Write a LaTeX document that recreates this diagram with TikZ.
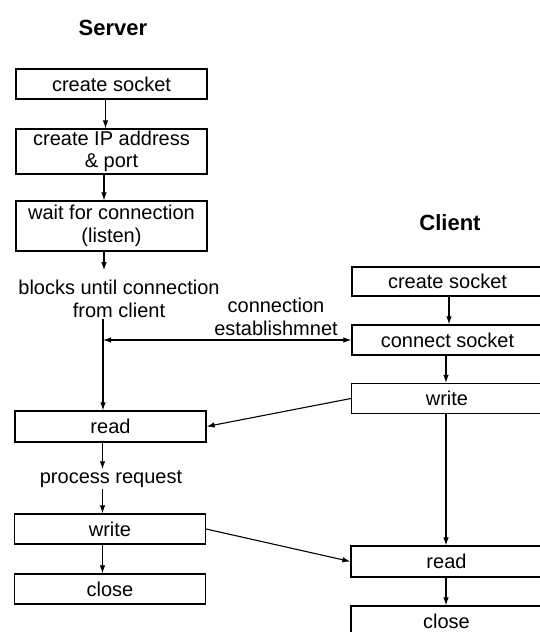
\documentclass[tikz,border=0pt]{standalone}
\usepackage{fontspec}
\setmainfont{Liberation Sans}
\usetikzlibrary{arrows.meta}
\begin{document}
\begin{tikzpicture}[x=1pt,y=-1pt,
 box/.style={draw, line width=1.2pt, minimum width=191pt, inner sep=0pt, font=\fontsize{20}{22.5}\selectfont, align=center},
 lbl/.style={font=\fontsize{20}{22.5}\selectfont, align=center, inner sep=1pt},
 ttl/.style={font=\fontsize{22}{26}\selectfont\bfseries},
 arr/.style={-{Latex[length=8pt,width=5.5pt]}, line width=1.1pt},
 darr/.style={{Latex[length=8pt,width=5.5pt]}-{Latex[length=8pt,width=5.5pt]}, line width=1.1pt}]
\useasboundingbox (0,0) rectangle (540,632);
% server
\node[ttl] (srv) at (113,28) {Server};
\node[box, minimum height=30pt] (s1) at (111.5,84) {create socket};
\node[box, minimum height=45pt] (s2) at (111.5,151.5) {create IP address\\\& port};
\node[box, minimum height=50pt] (s3) at (111.5,226) {wait for connection\\(listen)};
\node[lbl] (blk) at (119,299) {blocks until connection\\from client};
\node[box, minimum height=31pt] (s4) at (110.5,426.5) {read};
\node[lbl] (prc) at (111,479) {process request};
\node[box, minimum height=30pt] (s5) at (110,529) {write};
\node[box, minimum height=30pt] (s6) at (110,589) {close};
% client
\node[ttl] (cli) at (450,223) {Client};
\node[box, minimum height=29pt] (c1) at (447.5,281.5) {create socket};
\node[box, minimum height=30pt] (c2) at (447.5,340) {connect socket};
\node[box, minimum height=30pt] (c3) at (447,398.5) {write};
\node[box, minimum height=31pt] (c4) at (446.5,561.5) {read};
\node[box, minimum height=30pt] (c5) at (446.5,621) {close};
\node[lbl] (est) at (276,317) {connection\\establishmnet};
% columns
\coordinate (xa) at (105.5,0);
\coordinate (xb) at (104,0);
\coordinate (xl) at (103,0);
\coordinate (xc) at (102.5,0);
\coordinate (xd) at (449,0);
\coordinate (xe) at (446,0);
% server arrows
\draw[arr] (s1.south -| xa) -- (s2.north -| xa);
\draw[arr] (s2.south -| xb) -- (s3.north -| xb);
\draw[arr, shorten >=9pt] (s3.south -| xb) -- (blk.north -| xb);
\draw[arr] (blk.south -| xl) -- (s4.north -| xl);
\draw[darr] (c2.west -| xl) -- (c2.west);
\draw[arr] (s4.south -| xc) -- (prc.north -| xc);
\draw[arr] (prc.south -| xc) -- (s5.north -| xc);
\draw[arr] (s5.south -| xc) -- (s6.north -| xc);
% client arrows
\draw[arr] (c1.south -| xd) -- (c2.north -| xd);
\draw[arr] (c2.south -| xe) -- (c3.north -| xe);
\draw[arr] (c3.south -| xe) -- (c4.north -| xe);
\draw[arr] (c4.south -| xe) -- (c5.north -| xe);
% cross arrows
\draw[arr] (c3.west) -- (s4.east);
\draw[arr] (s5.east) -- (c4.west);
\end{tikzpicture}
\end{document}
